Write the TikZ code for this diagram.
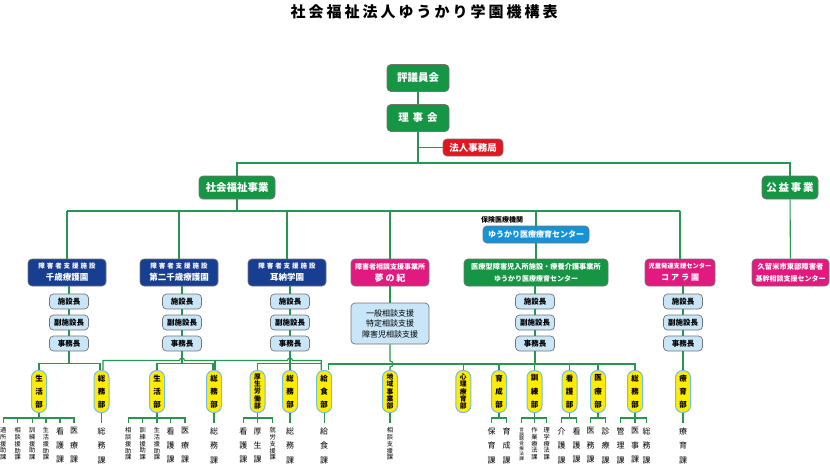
\documentclass[tikz,border=0pt]{standalone}
\usepackage{fontspec}
\setmainfont{Noto Sans CJK JP}
\usetikzlibrary{calc}

\definecolor{orggreen}{RGB}{22,150,68}
\definecolor{lngreen}{RGB}{40,150,80}
\definecolor{orgred}{RGB}{226,22,32}
\definecolor{orgnavy}{RGB}{24,62,146}
\definecolor{orgpink}{RGB}{226,26,128}
\definecolor{orgblue}{RGB}{22,146,214}
\definecolor{mgrfill}{RGB}{200,230,248}
\definecolor{deptyel}{RGB}{255,236,0}
\definecolor{deptrim}{RGB}{110,190,230}

\newcommand{\fsz}[2]{\fontsize{#1}{#2}\selectfont}
\newcommand{\facname}[2]{{\fsz{6.5}{10}\addfontfeatures{LetterSpace=30}#1}\\{\fsz{8.5}{11}#2}}

\begin{document}
\begin{tikzpicture}[x=1pt,y=-1pt,
  conn/.style={draw=lngreen,line width=1.1pt},
  orgbox/.style={rectangle,rounded corners=4pt,draw=black!55,line width=0.7pt,inner sep=0pt,align=center,font=\bfseries},
  topbox/.style={orgbox,fill=orggreen,text=white,minimum width=62pt,minimum height=27pt,font=\bfseries\fsz{10.5}{12}},
  facbox/.style={orgbox,fill=#1,text=white,minimum height=27pt},
  mgr/.style={orgbox,fill=mgrfill,minimum width=39pt,minimum height=15pt,font=\bfseries\fsz{7.5}{9}},
  dept/.style={rectangle,rounded corners=7pt,fill=deptyel,draw=deptrim,line width=1pt,minimum width=15pt,minimum height=42pt,inner sep=0pt,align=center,font=\bfseries\fsz{7.5}{13.3}},
  deptlong/.style={dept,font=\bfseries\fsz{6.8}{7.4}},
  ka/.style={anchor=north,inner sep=0pt,align=center,font=\fsz{8}{14.3}},
  kas/.style={ka,font=\fsz{6.2}{6.7}},
  kat/.style={ka,font=\fsz{4.6}{4.8}}]
\useasboundingbox (0,0) rectangle (830,475);

\node[font=\bfseries\fsz{15}{17}\addfontfeatures{LetterSpace=20}] (title) at (424,11.5) {社会福祉法人ゆうかり学園機構表};

% board and head office
\node[topbox] (hyogi) at (418,78) {評議員会};
\node[topbox] (riji) at (418,118) {理\hspace{4pt}事\hspace{4pt}会};
\node[orgbox,fill=orgred,text=white,minimum width=60pt,minimum height=17pt,font=\bfseries\fsz{9.5}{11}] (jimu) at (473,147.5) {法人事務局};
\node[topbox,minimum width=76pt,minimum height=23pt] (shakai) at (237,187.5) {社会福祉事業};
\node[topbox,minimum width=56pt,minimum height=23pt] (koeki) at (790,187.5) {公\,益\,事\,業};
\coordinate (bus1) at (418,163);
\coordinate (bus2) at (237,211);
\draw[conn] (hyogi) -- (riji);
\draw[conn] (riji) -- (bus1);
\draw[conn] (riji.south |- jimu) -- (jimu);
\draw[conn] (shakai) |- (bus1) -| (koeki);
\draw[conn] (shakai) -- (bus2);

% facilities
\node[facbox=orgnavy,minimum width=78pt] (fa) at (67,272.5) {\facname{障害者支援施設}{千歳療護園}};
\node[facbox=orgnavy,minimum width=78pt] (fb) at (179,272.5) {\facname{障害者支援施設}{第二千歳療護園}};
\node[facbox=orgnavy,minimum width=78pt] (fc) at (287,272.5) {\facname{障害者支援施設}{耳納学園}};
\node[facbox=orgpink,minimum width=78pt] (fy) at (390,272.5) {{\fsz{7}{10}障害者相談支援事業所}\\{\fsz{9}{12}夢\hspace{2pt}の\hspace{2pt}紀}};
\node[facbox=orggreen,minimum width=144pt] (fm) at (536,272.5) {{\fsz{7.2}{10}医療型障害児入所施設・療養介護事業所}\\{\fsz{7}{10}ゆうかり医療療育センター}};
\node[facbox=orgpink,minimum width=70pt] (fk) at (680,272.5) {{\fsz{6.3}{10}児童発達支援センター}\\{\fsz{8}{11}コ\hspace{2pt}ア\hspace{2pt}ラ\hspace{2pt}園}};
\node[facbox=orgpink,minimum width=77pt] (fq) at (790.5,272.5) {{\fsz{7.3}{10}久留米市東部障害者}\\{\fsz{7}{9}基幹相談支援センター}};
\node[font=\bfseries\fsz{7}{8},inner sep=0pt] (hoken) at (502,220) {保険医療機関};
\node[orgbox,fill=orgblue,text=white,minimum width=106pt,minimum height=17pt,font=\bfseries\fsz{8}{9}] (yuc) at (536,234.5) {ゆうかり医療療育センター};

\draw[conn] (fa.north |- bus2) -- (fk.north |- bus2);
\foreach \f in {fa,fb,fc,fy,fk}
  \draw[conn] (\f.north |- bus2) -- (\f.north);
\draw[conn] (fm.north |- bus2) -- (yuc);
\draw[conn] (yuc) -- (fm);
\draw[conn] (koeki) -- (fq);

% managers
\foreach \n/\x in {a/69,b/182,c/290,m/535,k/683}{
  \node[mgr] (\n1) at (\x,301.5) {施設長};
  \node[mgr] (\n2) at (\x,322.5) {副施設長};
  \node[mgr] (\n3) at (\x,343.5) {事務長};
  \draw[conn] (f\n.south -| \n1.north) -- (\n1) -- (\n2) -- (\n3);
}
\node[orgbox,fill=mgrfill,minimum width=78pt,minimum height=41pt,font=\fsz{8}{10.5}] (ysup) at (390,323.5) {一般相談支援\\特定相談支援\\障害児相談支援};
\draw[conn] (fy) -- (ysup);

% departments
\node[dept] (d1) at (39,391.5) {生\\活\\部};
\node[dept] (d2) at (101.5,391.5) {総\\務\\部};
\node[dept] (d3) at (157,391.5) {生\\活\\部};
\node[dept] (d4) at (214,391.5) {総\\務\\部};
\node[deptlong] (d5) at (257.5,391.5) {厚\\生\\労\\働\\部};
\node[dept] (d6) at (290,391.5) {総\\務\\部};
\node[dept] (d7) at (324.2,391.5) {給\\食\\部};
\node[deptlong] (d8) at (390,391.5) {地\\域\\事\\業\\部};
\node[deptlong] (d9) at (463.3,391.5) {心\\理\\療\\育\\部};
\node[dept] (d10) at (499,391.5) {育\\成\\部};
\node[dept] (d11) at (534.5,391.5) {訓\\練\\部};
\node[dept] (d12) at (569.5,391.5) {看\\護\\部};
\node[dept] (d13) at (598,391.5) {医\\療\\部};
\node[dept] (d14) at (635,391.5) {総\\務\\部};
\node[dept] (d15) at (683,391.5) {療\\育\\部};

\coordinate (lrow) at (0,360.5);
\coordinate (mrow) at (0,364);
\draw[conn] (a3.south) -- ++(0,12) -| (d1.north);
\draw[conn] (a3.south) -- ++(0,12) -| ($(d2.north)+(-1.5,0)$);
\draw[conn] (b3.south) -- ++(0,12) -| (d3.north);
\draw[conn] (b3.south) -- ++(0,12) -| ($(d4.north)+(-1,0)$);
\draw[conn] (c3.south) -- ++(0,12) -| (d5.north);
\draw[conn] (c3.south) -- ++(0,12) -| (d6.north);
\draw[conn] (c3.south) -- ++(0,12) -| ($(d7.north)+(-3,0)$);
\draw[conn] ($(d2.north)+(1.5,0)$) -- ($(d2.north |- lrow)+(1.5,0)$) -- ($(b3 |- lrow)+(-2.5,0)$)
  arc[start angle=180,end angle=0,radius=2.5pt] -- ($(c3 |- lrow)+(-2.5,0)$)
  arc[start angle=180,end angle=0,radius=2.5pt] -| ($(d7.north)+(-3,0)$);
\draw[conn] ($(d4.north |- lrow)+(1,0)$) -- ($(d4.north)+(1,0)$);
\foreach \d in {d9,d10,d11,d12,d13,d14}
  \draw[conn] (m3.south) -- (m3.south |- mrow) -| (\d.north);
\draw[conn] (m3.south |- mrow) -| ($(d7.north)+(4,0)$);
\draw[conn] (ysup.south) -- ($(ysup.south |- mrow)+(0,-3)$) arc[start angle=90,end angle=-90,radius=3pt] -- (d8.north);
\draw[conn] (k3) -- (d15);

% sections
\foreach \n/\x/\st/\t in {
  s1/3.3/kas/{通\\所\\援\\助\\課}, s2/17.7/kas/{相\\談\\援\\助\\課}, s3/32.3/kas/{訓\\練\\援\\助\\課},
  s4/46/kas/{生\\活\\援\\助\\課}, s5/60/ka/{看\\護\\課}, s6/74/ka/{医\\療\\課}, s7/101.5/ka/{総\\務\\課},
  s8/128.3/kas/{相\\談\\援\\助\\課}, s9/142.7/kas/{訓\\練\\援\\助\\課}, s10/157/kas/{生\\活\\援\\助\\課},
  s11/170.7/ka/{看\\護\\課}, s12/185/ka/{医\\療\\課}, s13/214/ka/{総\\務\\課},
  s14/243.3/ka/{看\\護\\課}, s15/257.5/ka/{厚\\生\\課}, s16/272.7/kas/{就\\労\\支\\援\\課},
  s17/290/ka/{総\\務\\課}, s18/324.2/ka/{給\\食\\課}, s19/390/kas/{相\\談\\支\\援\\課},
  s20/491.7/ka/{保\\育\\課}, s21/506.7/ka/{育\\成\\課},
  s22/521.7/kat/{言\\語\\聴\\覚\\療\\法\\課}, s23/534.5/kas/{作\\業\\療\\法\\課}, s24/546.7/kas/{理\\学\\療\\法\\課},
  s25/561.7/ka/{介\\護\\課}, s26/576.7/ka/{看\\護\\課}, s27/590.7/ka/{医\\務\\課}, s28/605.7/ka/{診\\療\\課},
  s29/620.7/ka/{管\\理\\課}, s30/635/ka/{医\\事\\課}, s31/646.7/ka/{総\\務\\課}, s32/683/ka/{療\\育\\課}}
  \node[\st] (\n) at (\x,427.5) {\t};

\foreach \d/\s in {d1/s1,d1/s2,d1/s3,d1/s4,d1/s5,d1/s6,d2/s7,
  d3/s8,d3/s9,d3/s10,d3/s11,d3/s12,d4/s13,d5/s14,d5/s15,d5/s16,
  d6/s17,d7/s18,d8/s19,d10/s20,d10/s21,d11/s22,d11/s23,d11/s24,
  d12/s25,d12/s26,d13/s27,d13/s28,d14/s29,d14/s30,d14/s31,d15/s32}
  \draw[conn] (\d.south) -- ++(0,5) -| ([yshift=4.5pt]\s.north);
\end{tikzpicture}
\end{document}
